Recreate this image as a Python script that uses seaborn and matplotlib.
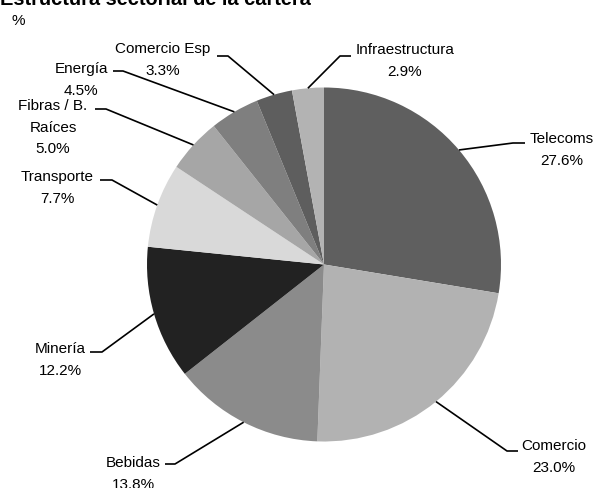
import numpy as np
import matplotlib
matplotlib.use("Agg")
import matplotlib.pyplot as plt
import seaborn as sns

# ---- data ----
sectors = ["Telecoms", "Comercio", "Bebidas", "Minería", "Transporte",
           "Fibras / B.\nRaíces", "Energía", "Comercio Esp", "Infraestructura"]
shares = [27.6, 23.0, 13.8, 12.2, 7.7, 5.0, 4.5, 3.3, 2.9]
colors = ["#5f5f5f", "#b2b2b2", "#8b8b8b", "#222222", "#d9d9d9",
          "#a6a6a6", "#7f7f7f", "#5e5e5e", "#b3b3b3"]
title = "Estructura sectorial de la cartera"
unit = "%"

# ---- layout (pixel coords from top-left) ----
W, H = 597, 489
CX, CY, R = 324, 265.5, 177
# (text center x, first-line center y, elbow x, elbow y, end x)
label_layout = [
    (562, 138, 513, 144, 525),
    (554, 445, 507, 452, 518),
    (133, 462, 175, 465, 165),
    (60, 348, 102, 353, 90),
    (57, 176, 112, 181, 100),
    (53, 105, 106, 110, 95),
    (81, 68, 123, 72, 113),
    (163, 48, 228, 57, 217),
    (405, 49, 340, 57, 351),
]
LINE_SP = 21.5
FS = 11

sns.set_style("white")
plt.rcParams["font.family"] = ["Liberation Sans", "DejaVu Sans"]

fig = plt.figure(figsize=(W / 100, H / 100), dpi=100)
ax = fig.add_axes([0, 0, 1, 1])

def py(y):
    return H - y

wedges, _ = ax.pie(shares, colors=colors, startangle=90, counterclock=False,
                   radius=R, center=(CX, py(CY)),
                   wedgeprops=dict(linewidth=0))
ax.set_xlim(0, W)
ax.set_ylim(0, H)
ax.set_aspect("equal", adjustable="box")
ax.axis("off")

for w, name, val, (tx, ty, ex, ey, endx) in zip(wedges, sectors, shares, label_layout):
    th = np.deg2rad((w.theta1 + w.theta2) / 2)
    ax_x = CX + R * np.cos(th)
    ax_y = py(CY) + R * np.sin(th)
    ax.plot([ax_x, ex, endx], [ax_y, py(ey), py(ey)], color="black", lw=1.2,
            solid_capstyle="butt", zorder=3)
    lines = name.split("\n") + [f"{val:.1f}%"]
    for i, ln in enumerate(lines):
        ax.text(tx, py(ty + i * LINE_SP + 5.5), ln, ha="center", va="baseline",
                fontsize=FS, color="black")

fig.text(0 / W, 1 - 5 / H, title, ha="left", va="baseline", fontsize=14.4,
         fontweight="bold", color="black")
fig.text(12 / W, 1 - 25 / H, unit, ha="left", va="baseline", fontsize=FS,
         color="black")

fig.savefig("out.png", dpi=100)
